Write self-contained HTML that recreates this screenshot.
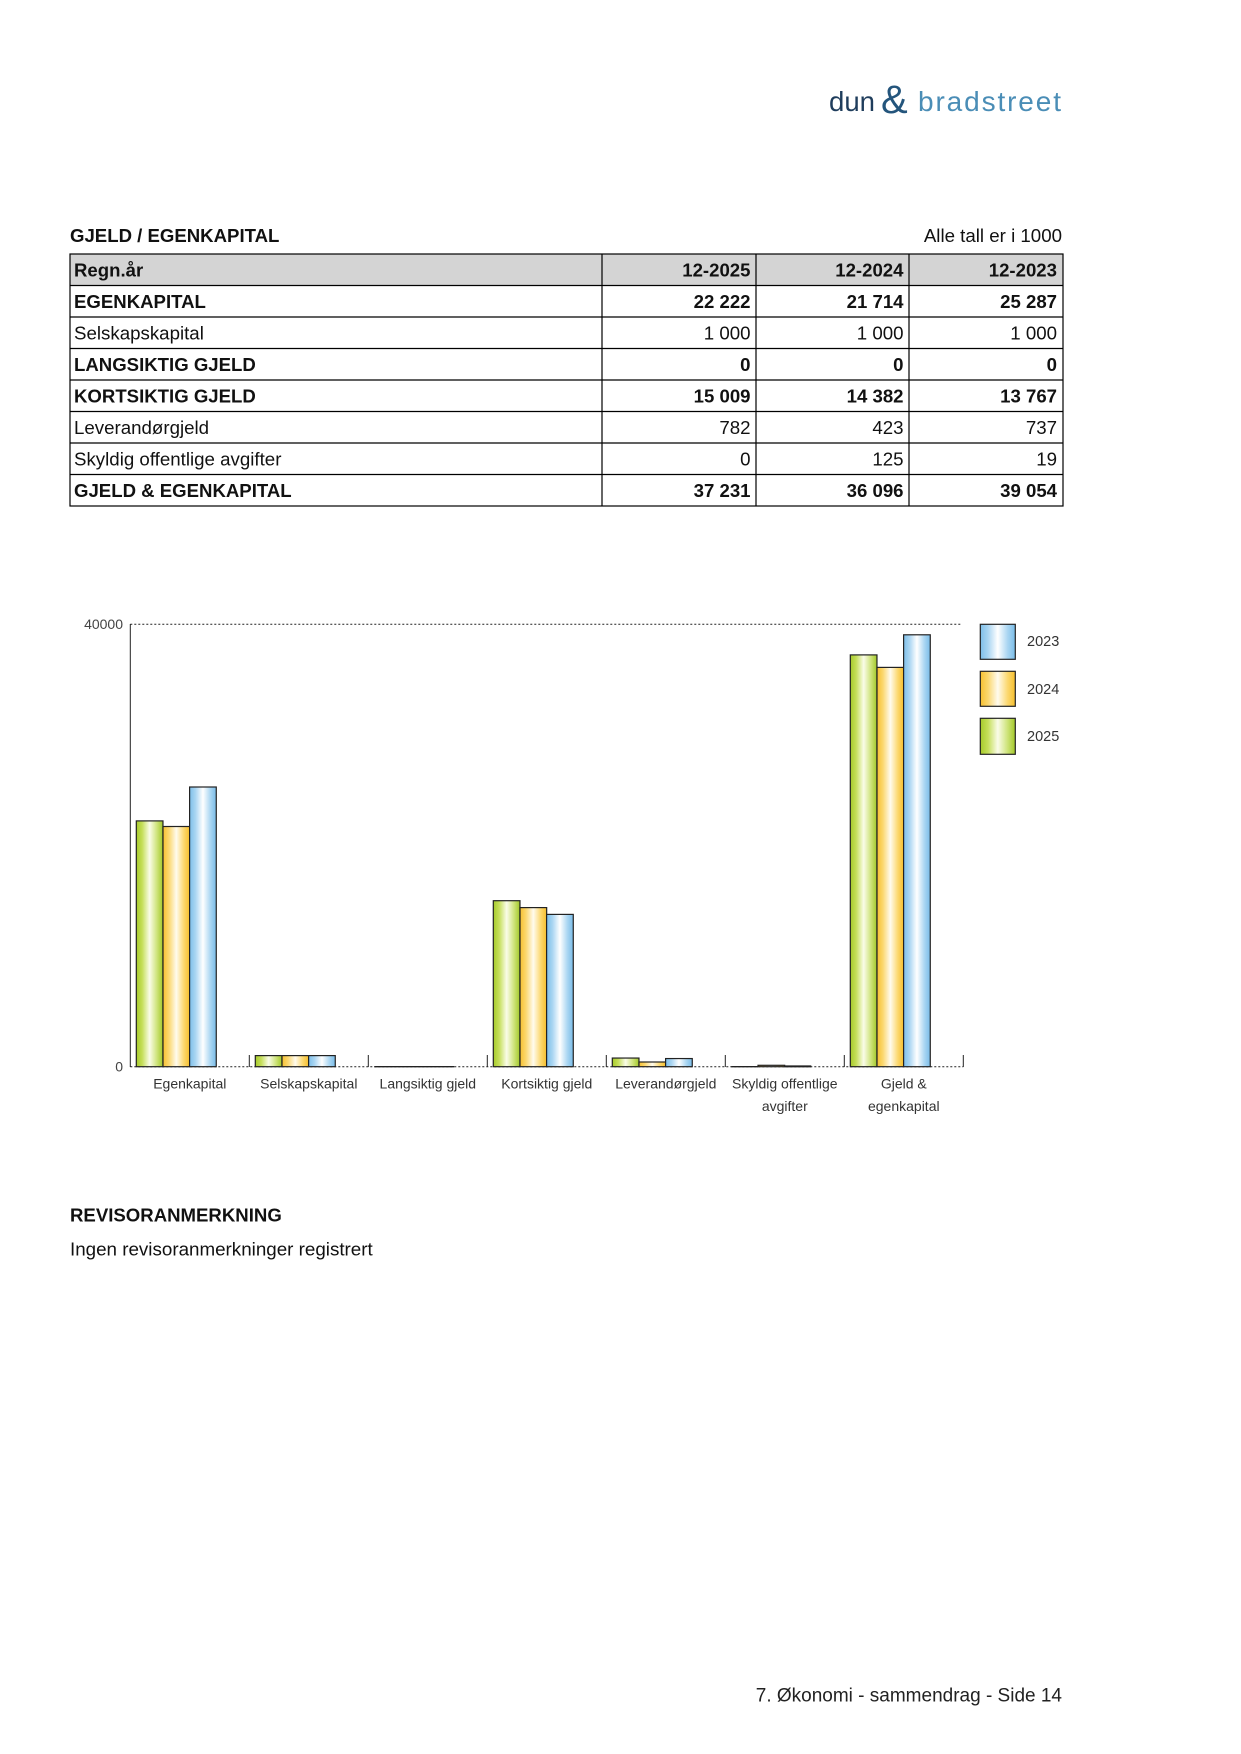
<!DOCTYPE html>
<html><head><meta charset="utf-8">
<style>html,body{margin:0;padding:0;background:#fff}svg{display:block}</style>
</head><body>
<svg width="1241" height="1754" viewBox="0 0 1241 1754" xmlns="http://www.w3.org/2000/svg" font-family="'Liberation Sans', Arial, sans-serif">
<defs>
<linearGradient id="gg" x1="0" x2="1" y1="0" y2="0">
<stop offset="0" stop-color="#a6ca2a"/><stop offset="0.22" stop-color="#c5df5a"/><stop offset="0.5" stop-color="#fafce8"/><stop offset="0.78" stop-color="#cde378"/><stop offset="1" stop-color="#a2c828"/>
</linearGradient>
<linearGradient id="go" x1="0" x2="1" y1="0" y2="0">
<stop offset="0" stop-color="#f7c131"/><stop offset="0.22" stop-color="#fbd76e"/><stop offset="0.5" stop-color="#fffbee"/><stop offset="0.78" stop-color="#fcd86f"/><stop offset="1" stop-color="#f5be2c"/>
</linearGradient>
<linearGradient id="gb" x1="0" x2="1" y1="0" y2="0">
<stop offset="0" stop-color="#7ebfe9"/><stop offset="0.22" stop-color="#a9d5f2"/><stop offset="0.5" stop-color="#ffffff"/><stop offset="0.78" stop-color="#aad6f2"/><stop offset="1" stop-color="#79bce8"/>
</linearGradient>
</defs>

<!-- Logo -->
<text x="829" y="111" font-size="28" fill="#1f3d5c" textLength="46" lengthAdjust="spacingAndGlyphs">dun</text>
<text x="881" y="113" font-size="40" fill="#24557c">&amp;</text>
<text x="918" y="111" font-size="28" fill="#4a8db6" textLength="143" lengthAdjust="spacing">bradstreet</text>

<!-- Title -->
<text x="70" y="242" font-size="18.6" font-weight="bold" fill="#111">GJELD / EGENKAPITAL</text>
<text x="1062" y="242" font-size="18.7" text-anchor="end" fill="#111">Alle tall er i 1000</text>

<!-- Table -->
<rect x="70" y="254" width="993" height="31.5" fill="#d4d4d4"/>
<g stroke="#000" stroke-width="1.2" fill="none">
<rect x="70" y="254" width="993" height="252"/>
<line x1="70" y1="285.5" x2="1063" y2="285.5"/>
<line x1="70" y1="317" x2="1063" y2="317"/>
<line x1="70" y1="348.5" x2="1063" y2="348.5"/>
<line x1="70" y1="380" x2="1063" y2="380"/>
<line x1="70" y1="411.5" x2="1063" y2="411.5"/>
<line x1="70" y1="443" x2="1063" y2="443"/>
<line x1="70" y1="474.5" x2="1063" y2="474.5"/>
<line x1="602" y1="254" x2="602" y2="506"/>
<line x1="756" y1="254" x2="756" y2="506"/>
<line x1="909" y1="254" x2="909" y2="506"/>
</g>
<g font-size="18.7" fill="#111">
<g font-weight="bold" font-size="18.6">
<text x="74" y="276.5">Regn.år</text>
<text x="750.5" y="276.5" text-anchor="end">12-2025</text>
<text x="903.5" y="276.5" text-anchor="end">12-2024</text>
<text x="1057" y="276.5" text-anchor="end">12-2023</text>

<text x="74" y="308">EGENKAPITAL</text>
<text x="750.5" y="308" text-anchor="end">22 222</text>
<text x="903.5" y="308" text-anchor="end">21 714</text>
<text x="1057" y="308" text-anchor="end">25 287</text>

<text x="74" y="371">LANGSIKTIG GJELD</text>
<text x="750.5" y="371" text-anchor="end">0</text>
<text x="903.5" y="371" text-anchor="end">0</text>
<text x="1057" y="371" text-anchor="end">0</text>

<text x="74" y="402.5">KORTSIKTIG GJELD</text>
<text x="750.5" y="402.5" text-anchor="end">15 009</text>
<text x="903.5" y="402.5" text-anchor="end">14 382</text>
<text x="1057" y="402.5" text-anchor="end">13 767</text>

<text x="74" y="497">GJELD &amp; EGENKAPITAL</text>
<text x="750.5" y="497" text-anchor="end">37 231</text>
<text x="903.5" y="497" text-anchor="end">36 096</text>
<text x="1057" y="497" text-anchor="end">39 054</text>
</g>
<text x="74" y="339.5">Selskapskapital</text>
<text x="750.5" y="339.5" text-anchor="end">1 000</text>
<text x="903.5" y="339.5" text-anchor="end">1 000</text>
<text x="1057" y="339.5" text-anchor="end">1 000</text>

<text x="74" y="434">Leverandørgjeld</text>
<text x="750.5" y="434" text-anchor="end">782</text>
<text x="903.5" y="434" text-anchor="end">423</text>
<text x="1057" y="434" text-anchor="end">737</text>

<text x="74" y="465.5">Skyldig offentlige avgifter</text>
<text x="750.5" y="465.5" text-anchor="end">0</text>
<text x="903.5" y="465.5" text-anchor="end">125</text>
<text x="1057" y="465.5" text-anchor="end">19</text>
</g>

<!-- Chart -->
<g stroke="#222" stroke-width="1" fill="none">
<line x1="130.3" y1="624.3" x2="961" y2="624.3" stroke-dasharray="2,2"/>
<line x1="130.3" y1="1066.7" x2="963.3" y2="1066.7" stroke-dasharray="2,2"/>
<line x1="130.3" y1="624" x2="130.3" y2="1067"/>
<line x1="249.3" y1="1055" x2="249.3" y2="1067"/>
<line x1="368.3" y1="1055" x2="368.3" y2="1067"/>
<line x1="487.3" y1="1055" x2="487.3" y2="1067"/>
<line x1="606.3" y1="1055" x2="606.3" y2="1067"/>
<line x1="725.3" y1="1055" x2="725.3" y2="1067"/>
<line x1="844.3" y1="1055" x2="844.3" y2="1067"/>
<line x1="963.3" y1="1055" x2="963.3" y2="1067"/>
</g>
<g stroke="#222" stroke-width="1.2">
<rect x="136.3" y="820.9" width="26.67" height="245.8" fill="url(#gg)"/>
<rect x="163" y="826.5" width="26.67" height="240.2" fill="url(#go)"/>
<rect x="189.6" y="787" width="26.67" height="279.7" fill="url(#gb)"/>
<rect x="255.3" y="1055.6" width="26.67" height="11.1" fill="url(#gg)"/>
<rect x="282" y="1055.6" width="26.67" height="11.1" fill="url(#go)"/>
<rect x="308.6" y="1055.6" width="26.67" height="11.1" fill="url(#gb)"/>
<rect x="493.3" y="900.7" width="26.67" height="166" fill="url(#gg)"/>
<rect x="520" y="907.6" width="26.67" height="159.1" fill="url(#go)"/>
<rect x="546.6" y="914.4" width="26.67" height="152.3" fill="url(#gb)"/>
<rect x="612.3" y="1058.05" width="26.67" height="8.65" fill="url(#gg)"/>
<rect x="639" y="1062" width="26.67" height="4.7" fill="url(#go)"/>
<rect x="665.6" y="1058.55" width="26.67" height="8.15" fill="url(#gb)"/>
<rect x="758" y="1065.3" width="26.67" height="1.4" fill="url(#go)"/>
<rect x="850.3" y="654.9" width="26.67" height="411.8" fill="url(#gg)"/>
<rect x="877" y="667.4" width="26.67" height="399.3" fill="url(#go)"/>
<rect x="903.6" y="634.8" width="26.67" height="431.9" fill="url(#gb)"/>
</g>
<g stroke="#222" stroke-width="1.3">
<line x1="374.3" y1="1066.7" x2="454.3" y2="1066.7"/>
<line x1="731.3" y1="1066.7" x2="758" y2="1066.7"/>
<line x1="784.6" y1="1066.4" x2="811.3" y2="1066.4" stroke-width="2"/>
</g>

<g font-size="14" fill="#444">
<text x="123" y="629" text-anchor="end">40000</text>
<text x="123" y="1071.5" text-anchor="end">0</text>
</g>
<g font-size="14" fill="#333" text-anchor="middle">
<text x="189.8" y="1088.7">Egenkapital</text>
<text x="308.8" y="1088.7">Selskapskapital</text>
<text x="427.8" y="1088.7">Langsiktig gjeld</text>
<text x="546.8" y="1088.7">Kortsiktig gjeld</text>
<text x="665.8" y="1088.7">Leverandørgjeld</text>
<text x="784.8" y="1088.7">Skyldig offentlige</text>
<text x="784.8" y="1111">avgifter</text>
<text x="903.8" y="1088.7">Gjeld &amp;</text>
<text x="903.8" y="1111">egenkapital</text>
</g>

<!-- Legend -->
<g stroke="#222" stroke-width="1.2">
<rect x="980.3" y="624.3" width="35" height="35" fill="url(#gb)"/>
<rect x="980.3" y="671.3" width="35" height="35" fill="url(#go)"/>
<rect x="980.3" y="718.3" width="35" height="36" fill="url(#gg)"/>
</g>
<g font-size="14.5" fill="#333">
<text x="1027" y="646">2023</text>
<text x="1027" y="694">2024</text>
<text x="1027" y="741">2025</text>
</g>

<!-- Revisor -->
<text x="70" y="1221.7" font-size="18.6" font-weight="bold" fill="#111">REVISORANMERKNING</text>
<text x="70" y="1255.7" font-size="18.8" fill="#111">Ingen revisoranmerkninger registrert</text>

<!-- Footer -->
<text x="1062" y="1701.7" font-size="19" text-anchor="end" fill="#222">7. Økonomi - sammendrag - Side 14</text>
</svg>
</body></html>
